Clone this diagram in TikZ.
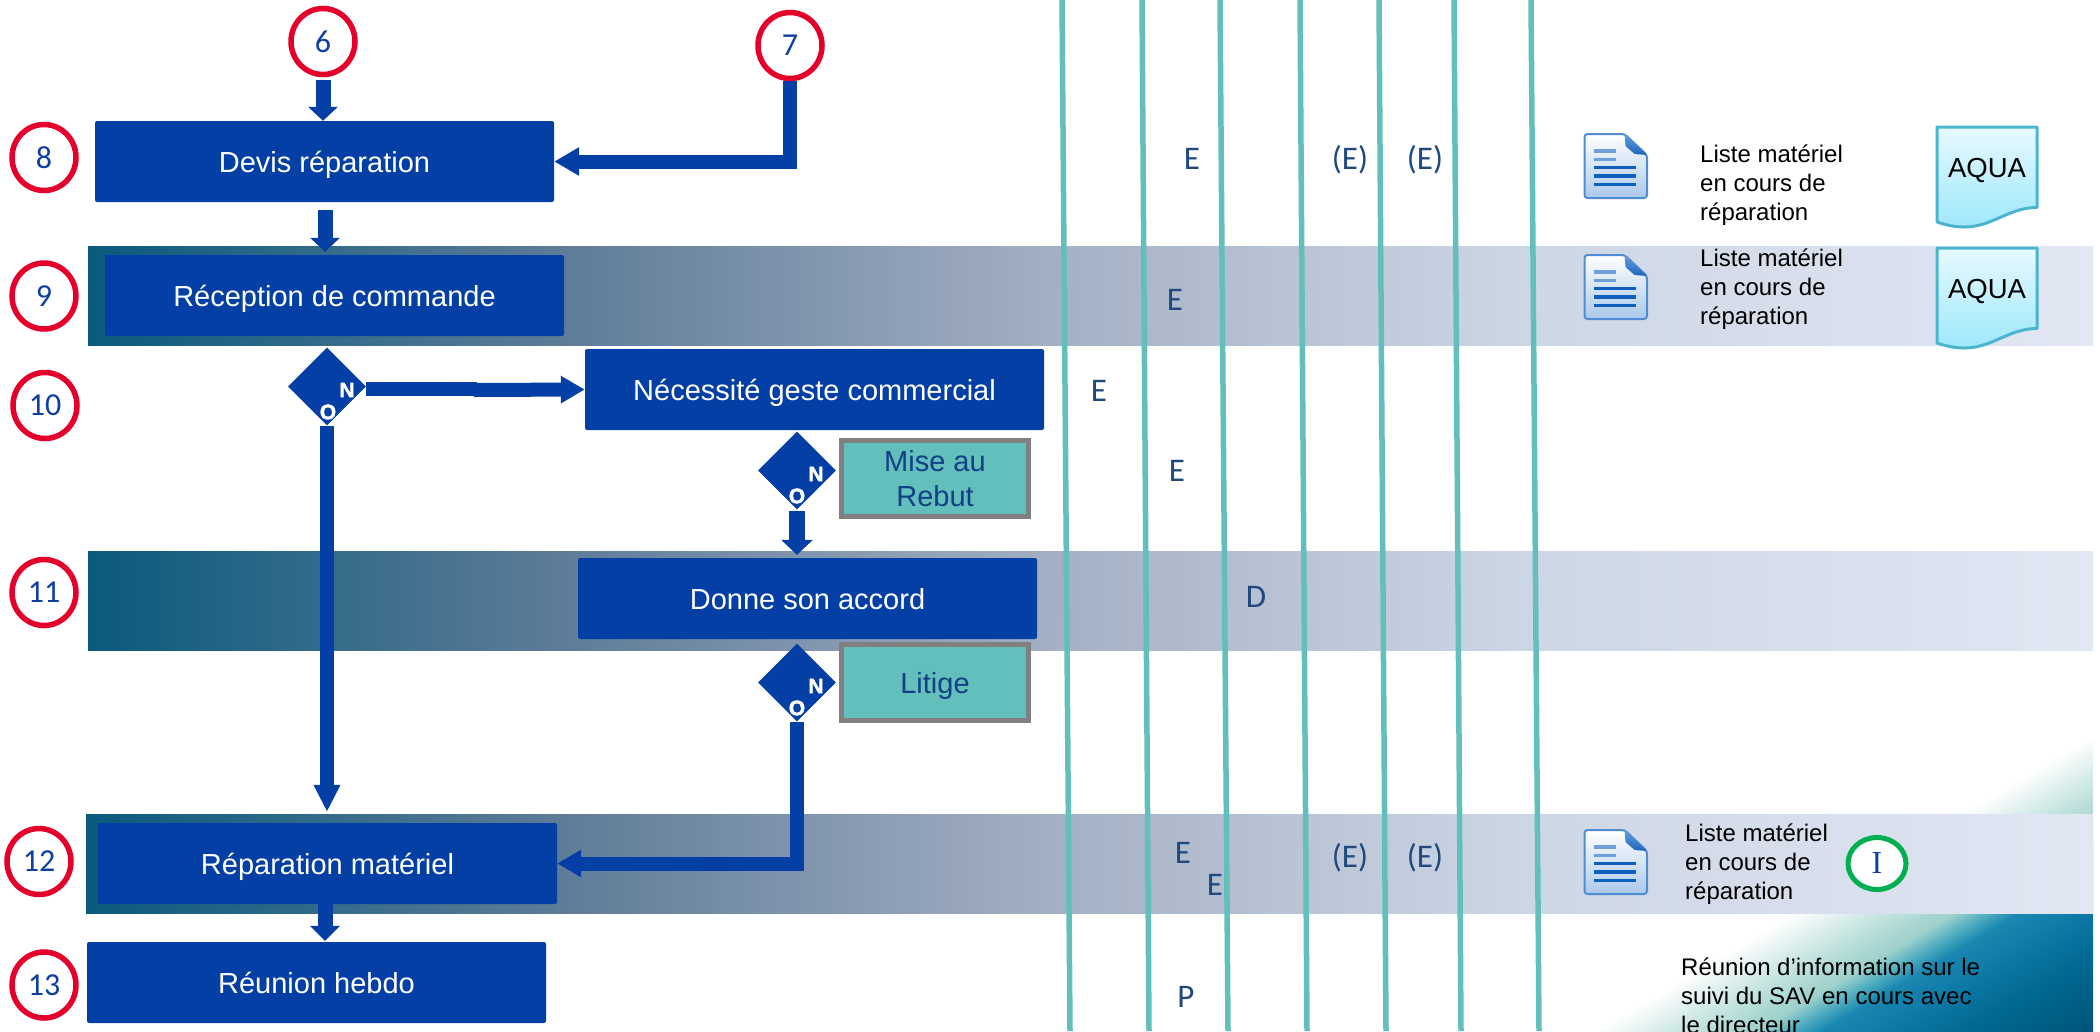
\documentclass[tikz,border=0pt]{standalone}
\usepackage{fontspec}
\setmainfont{Liberation Sans}
\newfontfamily\calib{Carlito}
\newfontfamily\serifI{Liberation Serif}
\newfontfamily\heavymark[FakeBold=2]{Liberation Sans Bold}
\usetikzlibrary{arrows.meta,shapes.geometric,calc}
\definecolor{boxblue}{HTML}{033FA4}
\definecolor{digitblue}{HTML}{0D3FA5}
\definecolor{rolecol}{HTML}{1F497D}
\definecolor{tealline}{HTML}{62BFBC}
\definecolor{ringred}{HTML}{E4002B}
\definecolor{ringgreen}{HTML}{00B050}
\definecolor{notecol}{HTML}{123F85}
\definecolor{bordergray}{HTML}{808080}
\definecolor{bandA}{HTML}{0A5A7C}
\definecolor{bandB}{HTML}{5E7C98}
\definecolor{bandC}{HTML}{A3AFC3}
\definecolor{bandD}{HTML}{CDD6E5}
\definecolor{bandE}{HTML}{E1E7F3}
\definecolor{aquaTop}{HTML}{E6F9FF}
\definecolor{aquaBot}{HTML}{9FE8FB}
\definecolor{aquaLine}{HTML}{4BB4CF}
\definecolor{iconBot}{HTML}{AAC8EB}
\definecolor{iconLine}{HTML}{508CD2}
\definecolor{foldTop}{HTML}{64A0E1}
\definecolor{foldBot}{HTML}{1E64BE}
\definecolor{rowLight}{HTML}{6EA0D7}
\definecolor{rowDark}{HTML}{0F5FBE}
\pgfdeclarehorizontalshading{bandshade}{100bp}{color(0bp)=(bandA); color(25bp)=(bandA); color(36.85bp)=(bandB); color(48.9bp)=(bandC); color(60.7bp)=(bandD); color(75bp)=(bandE); color(100bp)=(bandE)}
\pgfdeclarehorizontalshading{decoshade}{1400bp}{rgb(0bp)=(1,1,1); rgb(10bp)=(1,1,1); rgb(40bp)=(.85,.93,.92); rgb(80bp)=(.66,.84,.82); rgb(92bp)=(.62,.82,.80); rgb(108bp)=(.33,.69,.76); rgb(125bp)=(.10,.53,.69); rgb(160bp)=(.05,.47,.65); rgb(200bp)=(0,.41,.57); rgb(264bp)=(0,.33,.47); rgb(300bp)=(0,.33,.47)}
\tikzset{
  ringnode/.style={ellipse,draw=ringred,line width=5.5pt,fill=white,minimum width=64pt,minimum height=66pt,inner sep=0pt,text=digitblue,font=\calib\fontsize{32}{32}\selectfont},
  procbox/.style={rectangle,rounded corners=2pt,fill=boxblue,text=white,minimum width=459pt,minimum height=81pt,inner sep=0pt,font=\fontsize{29}{35}\selectfont,text height=21pt,text depth=0pt},
  notebox/.style={rectangle,draw=bordergray,line width=5pt,fill=tealline,text=notecol,minimum width=187pt,minimum height=76pt,inner sep=0pt,align=center,font=\fontsize{29}{35}\selectfont},
  decision/.style={diamond,fill=boxblue,minimum width=78pt,minimum height=78pt,inner sep=0pt},
  dmark/.style={text=white,draw=none,inner sep=0pt,font=\heavymark\fontsize{21}{21}\selectfont},
  rolelabel/.style={text=rolecol,inner sep=0pt,font=\calib\fontsize{33}{33}\selectfont,text height=23pt,text depth=0pt},
  docnote/.style={anchor=north west,inner sep=0pt,align=left,text=black,font=\fontsize{24}{29}\selectfont},
  bandbar/.style={shading=bandshade,shading angle=0},
  vrule/.style={draw=tealline,line width=5.5pt},
  flow/.style={draw=boxblue,fill=none,line width=14pt,line cap=butt,line join=miter},
  aquadoc/.pic={
    \path[top color=aquaTop,bottom color=aquaBot,draw=aquaLine,line width=3pt,rounded corners=.5pt]
      (0,0)--(100,0)--(100,80.5) .. controls (72,80.5) and (55,100) .. (27,100) .. controls (16,100) and (6,97) .. (0,95) -- cycle;
    \node[inner sep=0pt,text=black,font=\fontsize{27.5}{27.5}\selectfont,text height=19pt,text depth=0pt] (-lbl) at (50,41) {AQUA};
  },
  docicon/.pic={
    \path[top color=white,bottom color=iconBot,draw=iconLine,line width=2pt,rounded corners=3pt]
      (0,0)--(40,0)--(62.5,21)--(62.5,64)--(0,64)--cycle;
    \path[top color=foldTop,bottom color=foldBot,rounded corners=1pt]
      (40,0)--(62.5,21)--(50,20)--(41,12)--cycle;
    \draw[line width=3.5pt,rowLight] (9,17)--(31,17) (9,25.3)--(31,25.3);
    \draw[line width=3.5pt,rowDark] (9,33.7)--(51.5,33.7) (9,42)--(51.5,42) (9,50.3)--(51.5,50.3);
  }
}
\begin{document}
\begin{tikzpicture}[x=1pt,y=-1pt]
\useasboundingbox (0,0) rectangle (2100,1031);
% corner decoration
\begin{scope}
  \clip (1600,730) rectangle (2093,1031);
  \node[rotate=-59.3,anchor=west,inner sep=0pt,outer sep=0pt] (deco) at (1818,887) {\pgfuseshading{decoshade}};
\end{scope}
% bands
\path[bandbar] (88,246) rectangle (2093,345);
\path[bandbar] (88,551) rectangle (2093,650);
\path[bandbar] (86,814) rectangle (2093,913);
% vertical rules
\foreach \i/\a/\b in {1/1062/1070,2/1142/1149,3/1220/1228,4/1300/1307,5/1379/1386,6/1454/1461,7/1531/1539}{
  \coordinate (ta\i) at (\a,0);
  \coordinate (tb\i) at (\b,1031);
  \draw[vrule] (ta\i) -- (tb\i);
}
% rings
\node[ringnode] (n6) at (323,41.5) {6};
\node[ringnode] (n7) at (790,45.5) {7};
\node[ringnode] (n8) at (44,157.5) {8};
\node[ringnode] (n9) at (44,296) {9};
\node[ringnode] (n10) at (45,405.5) {10};
\node[ringnode] (n11) at (44,592.5) {11};
\node[ringnode] (n12) at (39,861.5) {12};
\node[ringnode] (n13) at (44,985) {13};
% process boxes
\node[procbox] (dev) at (324.5,161.5) {Devis réparation};
\node[procbox] (rec) at (334.5,295.5) {Réception de commande};
\node[procbox] (nec) at (814.5,389.5) {Nécessité geste commercial};
\node[procbox] (don) at (807.5,598.5) {Donne son accord};
\node[procbox] (rep) at (327.5,863.5) {Réparation matériel};
\node[procbox] (reu) at (316.5,982.5) {Réunion hebdo};
% side notes
\node[notebox] (mise) at (935,478.5) {Mise au\\Rebut};
\node[notebox,text height=21pt,text depth=0pt] (lit) at (935,682.5) {Litige};
% decisions
\node[decision] (d1) at (327,386.5) {};
\node[dmark] (d1n) at (347,390) {N};
\node[dmark] (d1o) at (328,412) {O};
\node[decision] (d2) at (797,470.5) {};
\node[dmark] (d2n) at (816,474) {N};
\node[dmark] (d2o) at (797,496) {O};
\node[decision] (d3) at (797,682.5) {};
\node[dmark] (d3n) at (816,686) {N};
\node[dmark] (d3o) at (797,708) {O};
% connectors
\draw[flow,line width=15pt,-{Triangle[length=14pt,width=29pt]},shorten <=3pt] (n6.south) -- (n6.south |- dev.north);
\draw[flow,-{Triangle[length=25pt,width=27pt]}] (n7.south) -- (n7.south |- dev.east) -- (dev.east);
\coordinate (devout) at ([xshift=.5pt]dev.south);
\draw[flow,line width=15pt,-{Triangle[length=14pt,width=29pt]},shorten <=8pt,shorten >=3pt] (devout) -- (devout |- rec.north);
\coordinate (step) at (477,389);
\draw[flow] (d1.east |- step) -- (step);
\draw[flow,-{Triangle[length=24pt,width=26pt]}] (474,390) -- (nec.west);
\draw[flow,-{Triangle[length=27pt,width=25pt]},shorten >=11pt] (d1.south) -- (d1.south |- rep.north);
\draw[flow,line width=16pt,-{Triangle[length=15pt,width=31pt]},shorten <=1pt,shorten >=3pt] (d2.south) -- (d2.south |- don.north);
\draw[flow,-{Triangle[length=24pt,width=26pt]}] (d3.south) -- (d3.south |- rep.east) -- (rep.east);
\coordinate (repout) at ([xshift=-2.5pt]rep.south);
\draw[flow,line width=15pt,-{Triangle[length=15pt,width=29pt]},shorten >=1pt] (repout) -- (repout |- reu.north);
% responsibility letters
\node[rolelabel] (r1) at (1192,158) {E};
\node[rolelabel] (r2) at (1350,158) {(E)};
\node[rolelabel] (r3) at (1425,158) {(E)};
\node[rolelabel] (r4) at (1175,299) {E};
\node[rolelabel] (r5) at (1099,390) {E};
\node[rolelabel] (r6) at (1177,470) {E};
\node[rolelabel] (r7) at (1256,596) {D};
\node[rolelabel] (r8) at (1183,852) {E};
\node[rolelabel] (r9) at (1215,884) {E};
\node[rolelabel] (r10) at (1350,856) {(E)};
\node[rolelabel] (r11) at (1425,856) {(E)};
\node[rolelabel] (r12) at (1186,996) {P};
% document icons
\pic (ic1) at (1584.5,134) {docicon};
\pic (ic2) at (1584.5,255) {docicon};
\pic (ic3) at (1584.5,830) {docicon};
% aqua documents
\pic (aq1) at (1937,127) {aquadoc};
\pic (aq2) at (1937,248) {aquadoc};
% notes
\node[docnote] (t1) at (1700,142) {\rule{0pt}{20pt}Liste matériel\\en cours de\\réparation};
\node[docnote] (t2) at (1700,246) {\rule{0pt}{20pt}Liste matériel\\en cours de\\réparation};
\node[docnote] (t3) at (1685,821) {\rule{0pt}{20pt}Liste matériel\\en cours de\\réparation};
\node[docnote] (t4) at (1681,955) {\rule{0pt}{20pt}Réunion d’information sur le\\suivi du SAV en cours avec\\le directeur};
% green ring
\node[ellipse,draw=ringgreen,line width=5pt,fill=white,minimum width=58pt,minimum height=52pt,inner sep=0pt,text=digitblue,font=\serifI\fontsize{32}{32}\selectfont] (info) at (1877,863.5) {I};
\end{tikzpicture}
\end{document}
